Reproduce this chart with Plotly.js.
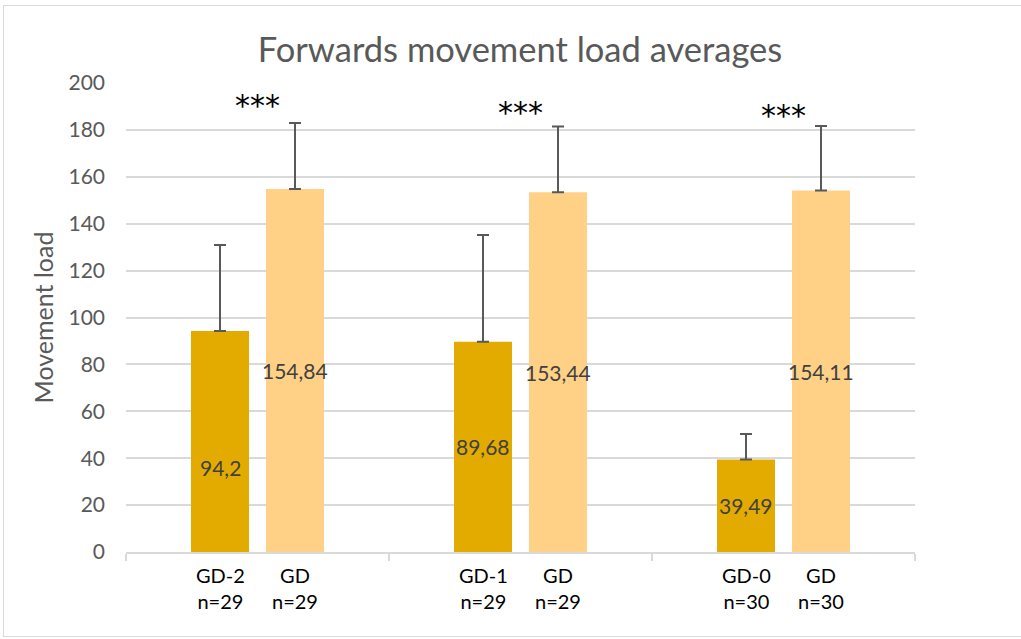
<!DOCTYPE html>
<html>
<head>
<meta charset="utf-8">
<script src="https://cdn.plot.ly/plotly-3.0.1.min.js"></script>
<style>
  html, body { margin: 0; padding: 0; background: #fff; }
  #chart { width: 1021px; height: 639px; position: absolute; left: 0; top: 0; }
  #frame { position: absolute; left: 3px; top: 5px; width: 1040px; height: 630px; border: 1px solid #d9d9d9; pointer-events: none; }
</style>
</head>
<body>
<div id="chart"></div>
<div id="frame"></div>
<script>
// ---- data ----
const groups = ["Group 1", "Group 2", "Group 3"];
const testLabels = ["GD-2", "GD-1", "GD-0"];
const testN = ["n=29", "n=29", "n=30"];
const testValues = [94.2, 89.68, 39.49];
const testErrors = [36.7, 45.5, 10.8];
const gdLabels = ["GD", "GD", "GD"];
const gdN = ["n=29", "n=29", "n=30"];
const gdValues = [154.84, 153.44, 154.11];
const gdErrors = [28.1, 28.0, 27.6];
const significance = ["***", "***", "***"];
const significanceLevels = [192, 189, 188];
const testLabelShift = [-26, 0, 0];   // label nudges (px)

const fmt = v => String(v).replace('.', ',');

// ---- layout constants ----
const W = 1021, H = 639;
const M = {l: 126, r: 106, t: 83, b: 87};
const plotW = W - M.l - M.r;
const catW = plotW / groups.length;
const bargap = 0.4297;
const slotW = catW * (1 - bargap) / 2;
const shift = slotW / 2;

const darkColor = '#E3AB00';
const lightColor = '#FFD187';
const font = 'Lato, "Liberation Sans", sans-serif';

const errStyle = {type: 'data', symmetric: false, color: '#595959', thickness: 2, width: 6};

const traces = [
  {
    type: 'bar', x: groups, y: testValues, marker: {color: darkColor},
    error_y: Object.assign({array: testErrors, arrayminus: testValues.map(() => 0)}, errStyle),
    hoverinfo: 'y', showlegend: false
  },
  {
    type: 'bar', x: groups, y: gdValues, marker: {color: lightColor},
    error_y: Object.assign({array: gdErrors, arrayminus: gdValues.map(() => 0)}, errStyle),
    hoverinfo: 'y', showlegend: false
  }
];

const annotations = [];
groups.forEach((g, i) => {
  // category labels under bars
  annotations.push({x: g, xref: 'x', y: 0, yref: 'paper', yanchor: 'top', xshift: -shift, yshift: -9,
    text: testLabels[i] + '<br>' + testN[i], showarrow: false, font: {family: font, size: 20, color: '#000'}});
  annotations.push({x: g, xref: 'x', y: 0, yref: 'paper', yanchor: 'top', xshift: shift, yshift: -9,
    text: gdLabels[i] + '<br>' + gdN[i], showarrow: false, font: {family: font, size: 20, color: '#000'}});
  // data labels
  annotations.push({x: g, xref: 'x', y: testValues[i] / 2, yref: 'y', xshift: -shift, yshift: testLabelShift[i],
    text: fmt(testValues[i]), showarrow: false, font: {family: font, size: 21, color: '#404040'}});
  annotations.push({x: g, xref: 'x', y: gdValues[i] / 2, yref: 'y', xshift: shift,
    text: fmt(gdValues[i]), showarrow: false, font: {family: font, size: 21, color: '#404040'}});
  // significance
  annotations.push({x: g, xref: 'x', y: significanceLevels[i], yref: 'y', yshift: -4,
    text: significance[i], showarrow: false,
    font: {family: '"DejaVu Sans", sans-serif', size: 30, color: '#000'}});
});

const layout = {
  width: W, height: H,
  margin: M,
  paper_bgcolor: '#fff', plot_bgcolor: '#fff',
  barmode: 'group', bargap: bargap, bargroupgap: 0.2267,
  title: {text: 'Forwards movement load averages', font: {family: font, size: 34.5, color: '#595959'},
          x: 520 / W, xanchor: 'center', y: 1 - 50 / H, yanchor: 'middle'},
  xaxis: {
    type: 'category', tickson: 'boundaries', ticks: 'outside', ticklen: 7, tickcolor: '#d9d9d9', tickwidth: 2,
    showticklabels: false, showline: true, linecolor: '#d9d9d9', linewidth: 2,
    showgrid: false, zeroline: false, fixedrange: true
  },
  yaxis: {
    range: [0, 200], dtick: 20, tick0: 0, showgrid: true, gridcolor: '#d9d9d9', gridwidth: 2,
    zeroline: false, showline: false, ticks: '', ticklabelstandoff: 20,
    tickfont: {family: font, size: 21, color: '#595959'},
    title: {text: 'Movement load', font: {family: font, size: 25, color: '#595959'}, standoff: 7},
    fixedrange: true
  },
  annotations: annotations
};

Plotly.newPlot('chart', traces, layout, {displayModeBar: false, staticPlot: true});
</script>
</body>
</html>
